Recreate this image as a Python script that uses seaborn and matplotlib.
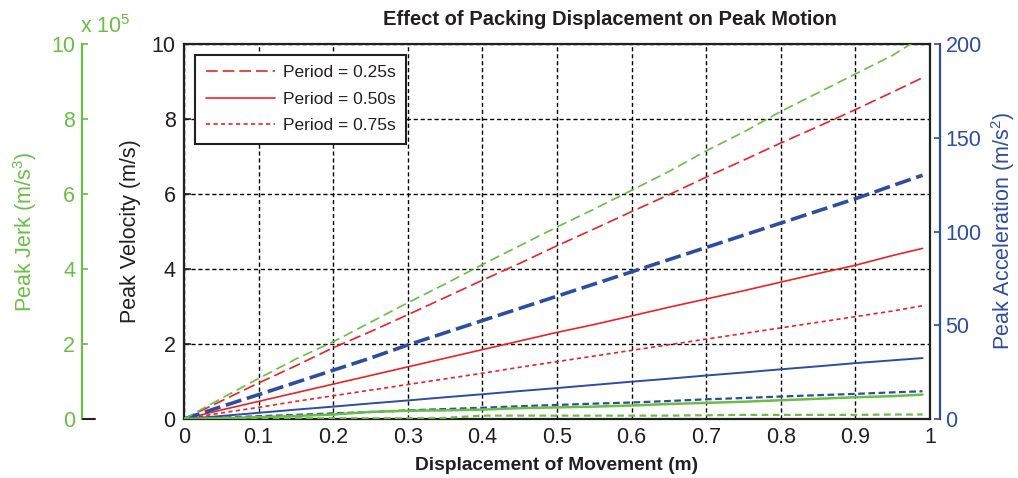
import numpy as np
import pandas as pd
import matplotlib
matplotlib.use("Agg")
import matplotlib.pyplot as plt
from matplotlib.lines import Line2D
import seaborn as sns

# ---------------- data ----------------
disp = [0.0, 0.05, 0.10, 0.15, 0.20, 0.25, 0.30, 0.35, 0.40, 0.45, 0.50,
        0.55, 0.60, 0.65, 0.70, 0.75, 0.80, 0.85, 0.90, 0.95, 0.99]

# Peak velocity (m/s)
vel_025 = [0, 0.48, 0.96, 1.42, 1.90, 2.33, 2.78, 3.24, 3.70, 4.15, 4.62,
           5.07, 5.53, 5.98, 6.45, 6.90, 7.36, 7.80, 8.25, 8.72, 9.10]
vel_050 = [0, 0.24, 0.47, 0.70, 0.93, 1.16, 1.39, 1.62, 1.85, 2.08, 2.31,
           2.52, 2.75, 2.98, 3.20, 3.42, 3.65, 3.88, 4.10, 4.36, 4.55]
vel_075 = [0, 0.16, 0.31, 0.47, 0.62, 0.77, 0.92, 1.07, 1.22, 1.38, 1.53,
           1.68, 1.83, 1.98, 2.13, 2.28, 2.43, 2.58, 2.73, 2.88, 3.02]

# Peak acceleration (m/s^2)
acc_025 = [0, 6.6, 13.0, 19.5, 26.0, 32.5, 39.5, 46.0, 52.5, 59.0, 65.5,
           72.0, 78.5, 85.0, 91.5, 98.0, 104.5, 111.0, 117.5, 124.5, 130.0]
acc_050 = [0, 1.6, 3.3, 5.0, 6.6, 8.3, 9.9, 11.6, 13.2, 14.9, 16.5,
           18.2, 19.9, 21.5, 23.2, 24.8, 26.5, 28.1, 29.8, 31.3, 32.5]
acc_075 = [0, 0.7, 1.5, 2.2, 3.0, 3.7, 4.6, 5.3, 6.0, 6.8, 7.5,
           8.2, 8.8, 9.6, 10.5, 11.2, 12.0, 12.7, 13.4, 14.2, 14.8]

# Peak jerk (x 1e5 m/s^3)
jerk_025 = [0, 0.55, 1.08, 1.60, 2.06, 2.58, 3.10, 3.60, 4.12, 4.62, 5.12,
            5.60, 6.10, 6.60, 7.15, 7.65, 8.20, 8.70, 9.20, 9.70, 10.20]
jerk_050 = [0, 0.02, 0.05, 0.08, 0.12, 0.19, 0.22, 0.23, 0.25, 0.29, 0.31,
            0.33, 0.36, 0.40, 0.43, 0.46, 0.50, 0.54, 0.58, 0.61, 0.65]
jerk_075 = [0, 0.01, 0.02, 0.02, 0.02, 0.02, 0.02, 0.03, 0.09, 0.09, 0.09,
            0.09, 0.09, 0.09, 0.10, 0.11, 0.11, 0.11, 0.11, 0.12, 0.12]

periods = ["Period = 0.25s", "Period = 0.50s", "Period = 0.75s"]
title = "Effect of Packing Displacement on Peak Motion"
xlabel = "Displacement of Movement (m)"
vlabel = "Peak Velocity (m/s)"
alabel = "Peak Acceleration (m/s$^2$)"
jlabel = "Peak Jerk (m/s$^3$)"

# ---------------- style ----------------
sns.set_theme(style="white")
plt.rcParams["font.family"] = ["Liberation Sans", "DejaVu Sans"]
plt.rcParams["mathtext.fontset"] = "custom"
plt.rcParams["mathtext.rm"] = "Liberation Sans"
plt.rcParams["mathtext.it"] = "Liberation Sans:italic"

RED = "#EC2227"
GREEN = "#6BBE45"
BLUE = "#2E4DA0"
INK = "#231F20"

W, H = 1018, 478
PX = 72 / 100  # points per pixel
fig = plt.figure(figsize=(W / 100, H / 100), dpi=100)
ax = fig.add_axes([184 / W, 1 - 419 / H, 746 / W, 375 / H])
ax2 = ax.twinx()
ax3 = ax.twinx()

x = np.array(disp)

# velocity (red) on main axis
red_styles = [(0, (7, 3)), "-", (0, (2.5, 2))]
for vals, ls in zip([vel_025, vel_050, vel_075], red_styles):
    sns.lineplot(x=x, y=np.array(vals), ax=ax, color=RED, linestyle=ls,
                 linewidth=1.2, legend=False)

# acceleration (blue) on right axis
blue_specs = [((0, (4.5, 1.6)), 2.6), ("-", 1.4), ((0, (3, 1.6)), 1.6)]
for vals, (ls, lw) in zip([acc_025, acc_050, acc_075], blue_specs):
    sns.lineplot(x=x, y=np.array(vals), ax=ax2, color=BLUE, linestyle=ls,
                 linewidth=lw, legend=False)

# jerk (green) on far-left axis
green_specs = [((0, (6, 3)), 1.2), ("-", 1.8), ((0, (3, 2)), 1.6)]
for vals, (ls, lw) in zip([jerk_025, jerk_050, jerk_075], green_specs):
    sns.lineplot(x=x, y=np.array(vals), ax=ax3, color=GREEN, linestyle=ls,
                 linewidth=lw, legend=False)

# ---------------- main axis ----------------
ax.set_xlim(0, 1)
ax.set_ylim(0, 10)
ax.set_xticks(np.arange(0, 1.01, 0.1))
ax.set_xticklabels(["0", "0.1", "0.2", "0.3", "0.4", "0.5", "0.6", "0.7", "0.8", "0.9", "1"])
ax.set_yticks([0, 2, 4, 6, 8, 10])
ax.grid(True, color="black", linestyle=(0, (3, 2)), linewidth=1.0)
for s in ax.spines.values():
    s.set_color(INK)
    s.set_linewidth(1.6)
ax.tick_params(axis="both", direction="in", length=5, width=1.2, colors=INK,
               labelsize=15.5, pad=6, top=False, right=False)
ax.set_ylabel(vlabel, fontsize=15.5, color=INK, labelpad=8)
ax.set_xlabel(xlabel, fontsize=13.8, fontweight="bold", color=INK, labelpad=6)
ax.set_title(title, fontsize=14.5, fontweight="bold", color=INK, x=0.571, pad=14)

# ---------------- right (acceleration) axis ----------------
ax2.set_ylim(0, 200)
ax2.set_yticks([0, 50, 100, 150, 200])
for name, s in ax2.spines.items():
    s.set_visible(name == "right")
ax2.spines["right"].set_position(("outward", 10 * PX))
ax2.spines["right"].set_color(BLUE)
ax2.spines["right"].set_linewidth(1.6)
ax2.tick_params(axis="y", direction="in", length=4, width=1.2, colors=BLUE,
                labelsize=15.5, pad=4)
ax2.set_ylabel(alabel, fontsize=15.5, color=BLUE, labelpad=5)
ax2.grid(False)

# ---------------- left (jerk) axis ----------------
ax3.set_ylim(0, 10)
ax3.set_yticks([0, 2, 4, 6, 8, 10])
for name, s in ax3.spines.items():
    s.set_visible(name == "left")
ax3.spines["left"].set_position(("outward", 102 * PX))
ax3.spines["left"].set_color(GREEN)
ax3.spines["left"].set_linewidth(1.6)
ax3.yaxis.set_ticks_position("left")
ax3.yaxis.set_label_position("left")
ax3.tick_params(axis="y", direction="in", length=4, width=1.2, colors=GREEN,
                labelsize=15.5, pad=5)
ax3.set_ylabel(jlabel, fontsize=15.5, color=GREEN, labelpad=9)
ax3.grid(False)
fig.text(80 / W, 1 - 33 / H, "x 10$^5$", color=GREEN, fontsize=15.5, va="baseline")
# short black baseline stub of the jerk axis
fig.add_artist(Line2D([83 / W, 95 / W], [1 - 419 / H, 1 - 419 / H],
                      color=INK, linewidth=1.5))

# ---------------- legend ----------------
handles = ax.get_lines()[:3]
leg = ax3.legend(handles, periods, loc="upper left", bbox_to_anchor=(0.015, 0.972),
                 borderaxespad=0, fontsize=12.5, frameon=True, fancybox=False,
                 handlelength=4.0, handletextpad=0.45, labelspacing=0.66,
                 borderpad=0.6)
leg.get_frame().set_edgecolor(INK)
leg.get_frame().set_linewidth(1.5)
leg.get_frame().set_facecolor("white")
leg.get_frame().set_alpha(1)
for t in leg.get_texts():
    t.set_color(INK)

fig.savefig("out.png", dpi=100)
